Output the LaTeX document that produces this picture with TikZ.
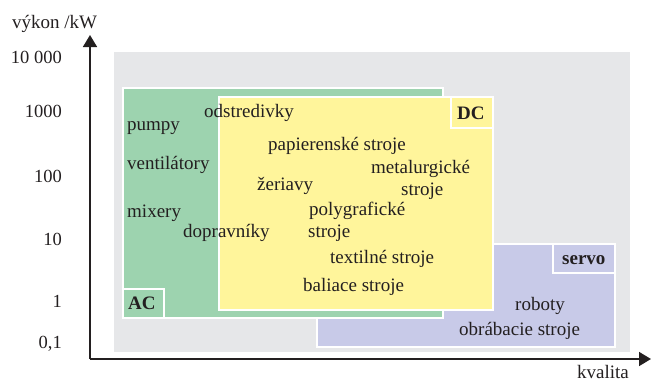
\documentclass[tikz,border=0pt]{standalone}
\usepackage{fontspec}
\setmainfont{Liberation Serif}
\usetikzlibrary{arrows.meta}
\definecolor{bggray}{HTML}{E6E7E9}
\definecolor{acgreen}{HTML}{9DD3AF}
\definecolor{dcyellow}{HTML}{FFF59B}
\definecolor{servoblue}{HTML}{C8CAE8}
\definecolor{ink}{HTML}{231F20}
\begin{document}
\begin{tikzpicture}[x=1pt,y=-1pt,
  zone/.style={draw=white,line width=2pt},
  lbl/.style={font=\fontsize{19}{21}\selectfont,text=ink,inner sep=0pt,anchor=base west},
  tag/.style={font=\fontsize{19}{21}\selectfont\bfseries,text=ink,inner sep=0pt,anchor=base west},
  tick/.style={font=\fontsize{18.5}{21}\selectfont,text=ink,inner sep=0pt,anchor=base east},
  axis/.style={draw=ink,line width=1.6pt,-{Triangle[length=12pt,width=14pt]}}]
\useasboundingbox (0,0) rectangle (651,381);
% background
\fill[bggray] (114,52) rectangle (630,352);
% servo
\filldraw[zone,fill=servoblue] (317,244) rectangle (615,347);
% AC
\filldraw[zone,fill=acgreen] (123,88) rectangle (443,318);
% DC
\filldraw[zone,fill=dcyellow] (219,97) rectangle (493,310);
% tag boxes
\filldraw[zone,fill=acgreen] (123,289) rectangle (164,318);
\filldraw[zone,fill=dcyellow] (451,97) rectangle (493,128);
\filldraw[zone,fill=servoblue] (553,244) rectangle (615,273);
\node[tag] (ac) at (128,309) {AC};
\node[tag] (dc) at (457,119) {DC};
\node[tag] (servo) at (562,264) {servo};
% axes
\coordinate (o) at (90,359);
\coordinate (ytop) at (90,35);
\coordinate (xend) at (651,359);
\draw[axis] (o) -- (ytop);
\draw[axis] (o) -- (xend);
\node[lbl] (ylab) at (12,28) {výkon /kW};
\node[lbl] (xlab) at (577,378) {kvalita};
% ticks
\node[tick] (t1) at (62,63) {10 000};
\node[tick] (t2) at (62,117) {1000};
\node[tick] (t3) at (62,182) {100};
\node[tick] (t4) at (62,245) {10};
\node[tick] (t5) at (62,307) {1};
\node[tick] (t6) at (62,348) {0,1};
% AC items
\node[lbl] (pumpy) at (127,130) {pumpy};
\node[lbl] (vent) at (127,169) {ventilátory};
\node[lbl] (mix) at (127,217) {mixery};
\node[lbl] (dopr) at (183,237) {dopravníky};
\node[lbl] (odst) at (204,117) {odstredivky};
% DC items
\node[lbl] (pap) at (268,150) {papierenské stroje};
\node[lbl] (zer) at (257,190) {žeriavy};
\node[lbl] (met) at (371,173) {metalurgické};
\node[lbl] (met2) at (401,195) {stroje};
\node[lbl] (pol) at (309,215) {polygrafické};
\node[lbl] (pol2) at (308,237) {stroje};
\node[lbl] (tex) at (330,263) {textilné stroje};
\node[lbl] (bal) at (303,291) {baliace stroje};
% servo items
\node[lbl] (rob) at (515,310) {roboty};
\node[lbl] (obr) at (459,335) {obrábacie stroje};
\end{tikzpicture}
\end{document}
